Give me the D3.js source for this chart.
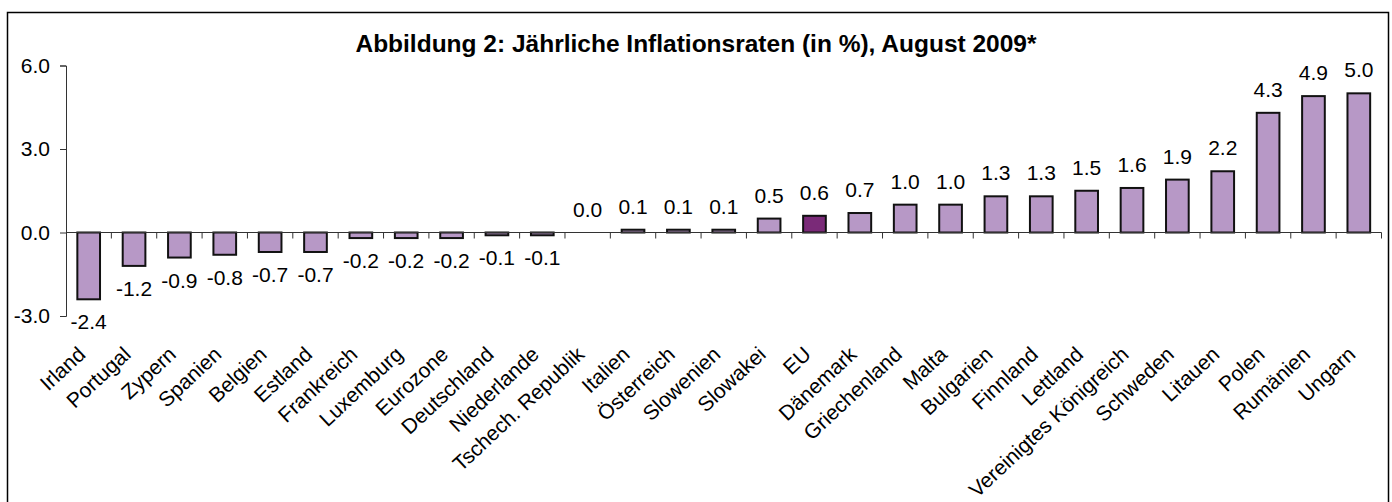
<!DOCTYPE html>
<html>
<head>
<meta charset="utf-8">
<script src="https://cdn.jsdelivr.net/npm/d3@7"></script>
<style>
  body { margin: 0; background: #fff; }
  text { font-family: Arial, "Liberation Sans", sans-serif; fill: #000; }
</style>
</head>
<body>
<div id="chart"></div>
<script>
const countries = ["Irland", "Portugal", "Zypern", "Spanien", "Belgien", "Estland", "Frankreich",
    "Luxemburg", "Eurozone", "Deutschland", "Niederlande", "Tschech. Republik", "Italien",
    "Österreich", "Slowenien", "Slowakei", "EU", "Dänemark", "Griechenland", "Malta",
    "Bulgarien", "Finnland", "Lettland", "Vereinigtes Königreich", "Schweden", "Litauen",
    "Polen", "Rumänien", "Ungarn"];
const rates = [-2.4, -1.2, -0.9, -0.8, -0.7, -0.7, -0.2, -0.2, -0.2, -0.1, -0.1, 0.0, 0.1,
    0.1, 0.1, 0.5, 0.6, 0.7, 1.0, 1.0, 1.3, 1.3, 1.5, 1.6, 1.9, 2.2, 4.3, 4.9, 5.0];
const highlighted = ["EU"];
const yTicks = [-3, 0, 3, 6];
const title = "Abbildung 2: Jährliche Inflationsraten (in %), August 2009*";

const W = 1392, H = 502;
const plot = {left: 66, right: 1381.5, top: 65.5, bottom: 316};

const data = countries.map((c, i) => ({name: c, value: rates[i]}));

// plain hyphen instead of unicode minus, like the original
const fmt = v => d3.format(".1f")(v).replace("\u2212", "-");

const svg = d3.select("#chart")
    .append("svg")
    .attr("width", W)
    .attr("height", H);

// outer frame
svg.append("rect")
    .attr("x", 7.5)
    .attr("y", 12.5)
    .attr("width", 1381)
    .attr("height", 500)
    .attr("fill", "none")
    .attr("stroke", "#000")
    .attr("stroke-width", 1.5);

svg.append("text")
    .attr("x", W / 2)
    .attr("y", 52)
    .attr("text-anchor", "middle")
    .style("font-size", "24.5px")
    .style("font-weight", "bold")
    .text(title);

const x = d3.scaleBand()
    .domain(countries)
    .range([plot.left, plot.right])
    .paddingInner(0.5)
    .paddingOuter(0.25);

const y = d3.scaleLinear()
    .domain([-3, 6])
    .range([plot.bottom, plot.top]);

// y axis
const yAxis = svg.append("g")
    .attr("transform", `translate(${plot.left},0)`)
    .call(d3.axisLeft(y).tickValues(yTicks).tickFormat(fmt).tickSizeOuter(0).tickSize(6).tickPadding(10));
yAxis.select(".domain").attr("stroke", "#333");
yAxis.selectAll(".tick line").attr("stroke", "#333");
yAxis.selectAll("text").style("font-size", "21px").style("font-family", "Arial, 'Liberation Sans', sans-serif");

// bars
svg.selectAll("rect.bar")
    .data(data)
    .enter()
    .append("rect")
    .attr("class", "bar")
    .attr("x", d => x(d.name))
    .attr("width", x.bandwidth())
    .attr("y", d => y(Math.max(0, d.value)))
    .attr("height", d => Math.abs(y(d.value) - y(0)))
    .attr("fill", d => highlighted.includes(d.name) ? "#7a2a78" : "#b798c6")
    .attr("stroke", "#111")
    .attr("stroke-width", 2);

// x axis at zero with ticks between categories
const step = x.step();
const boundaries = d3.range(countries.length + 1).map(i => plot.left + i * step);
const xAxis = svg.append("g");
xAxis.append("line")
    .attr("x1", plot.left)
    .attr("x2", plot.right)
    .attr("y1", y(0))
    .attr("y2", y(0))
    .attr("stroke", "#333");
xAxis.selectAll("line.tick")
    .data(boundaries.slice(1))
    .enter()
    .append("line")
    .attr("class", "tick")
    .attr("x1", d => d)
    .attr("x2", d => d)
    .attr("y1", y(0))
    .attr("y2", y(0) + 6)
    .attr("stroke", "#333");

// value labels
svg.selectAll("text.val")
    .data(data)
    .enter()
    .append("text")
    .attr("class", "val")
    .attr("x", d => x(d.name) + x.bandwidth() / 2)
    .attr("y", d => d.value >= 0 ? y(d.value) - 16 : y(d.value) + 30)
    .attr("text-anchor", "middle")
    .style("font-size", "21px")
    .text(d => fmt(d.value));

// category labels
svg.selectAll("text.cat")
    .data(countries)
    .enter()
    .append("text")
    .attr("class", "cat")
    .attr("transform", d => `translate(${x(d) + x.bandwidth() / 2 - 2},356) rotate(-43)`)
    .attr("text-anchor", "end")
    .style("font-size", "21px")
    .text(d => d);
</script>
</body>
</html>
